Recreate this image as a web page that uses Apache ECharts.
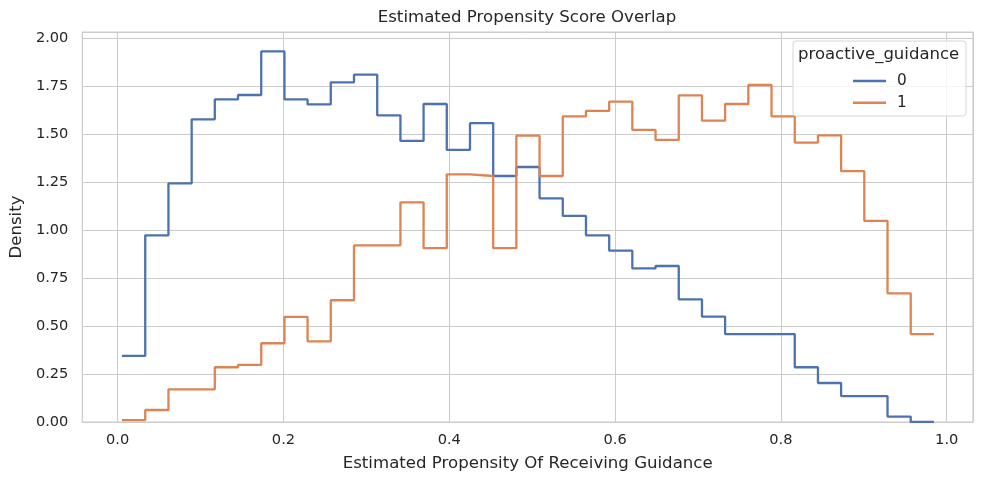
<!DOCTYPE html>
<html>
<head>
<meta charset="utf-8">
<script src="https://cdn.jsdelivr.net/npm/echarts@6/dist/echarts.min.js"></script>
<style>
  html, body { margin: 0; padding: 0; background: #fff; }
  #chart { width: 984px; height: 484px; }
</style>
</head>
<body>
<div id="chart"></div>
<script>
// 直方图的分箱边界（共 35 个箱，36 个边界）
const binEdges = [
  0.0053, 0.0333, 0.0613, 0.0893, 0.1172, 0.1452, 0.1732, 0.2012, 0.2291,
  0.2571, 0.2851, 0.3131, 0.3411, 0.3690, 0.3970, 0.4250, 0.4530, 0.4809,
  0.5089, 0.5369, 0.5649, 0.5929, 0.6208, 0.6488, 0.6768, 0.7048, 0.7327,
  0.7607, 0.7887, 0.8167, 0.8447, 0.8726, 0.9006, 0.9286, 0.9566, 0.9846
]
// proactive_guidance = 0 的密度
const density0 = [
  0.344, 0.972, 1.243, 1.576, 1.680, 1.703, 1.930, 1.680, 1.654, 1.769,
  1.809, 1.597, 1.464, 1.656, 1.417, 1.556, 1.281, 1.328, 1.165, 1.073,
  0.972, 0.892, 0.800, 0.8125, 0.639, 0.549, 0.458, 0.458, 0.458, 0.285,
  0.203, 0.135, 0.135, 0.028, 0
]
// proactive_guidance = 1 的密度
const density1 = [
  0.010, 0.0625, 0.170, 0.170, 0.285, 0.297, 0.410, 0.547, 0.420, 0.634,
  0.920, 0.920, 1.144, 0.905, 1.290, 1.281, 0.905, 1.491, 1.281, 1.592,
  1.620, 1.668, 1.521, 1.469, 1.701, 1.569, 1.656, 1.755, 1.592, 1.455,
  1.493, 1.306, 1.047, 0.670, 0.458
]
const groups = ['0', '1']
const xTicks = [0, 0.2, 0.4, 0.6, 0.8, 1.0]
const yTicks = [0, 0.25, 0.5, 0.75, 1.0, 1.25, 1.5, 1.75, 2.0]

// 把每个箱的高度变成阶梯线的点（最后一个边界重复最后的高度）
const stepPoints = (heights) => {
  const pts = heights.map((h, i) => [binEdges[i], h])
  pts.push([binEdges[heights.length], heights[heights.length - 1]])
  return pts
}

const font = 'DejaVu Sans'
const textColor = '#262626'
const gridColor = '#cccccc'

const near = (v, list) => list.some(t => Math.abs(t - v) < 1e-6)

const chart = echarts.init(document.getElementById('chart'), null, { renderer: 'canvas' })

const option = {
  backgroundColor: '#ffffff',
  animation: false,
  textStyle: { fontFamily: font, color: textColor },
  color: ['#4c72b0', '#dd8452'],
  title: {
    text: 'Estimated Propensity Score Overlap',
    left: 527,
    top: 9,
    padding: 0,
    textAlign: 'center',
    textStyle: { fontFamily: font, fontSize: 16.6, fontWeight: 'normal', color: textColor }
  },
  grid: {
    left: 81, top: 32, right: 11, bottom: 62,
    show: true,
    borderColor: gridColor,
    borderWidth: 1.25,
    containLabel: false
  },
  xAxis: {
    type: 'value',
    min: -0.0425,
    max: 1.0317,
    splitNumber: 5,
    name: 'Estimated Propensity Of Receiving Guidance',
    nameLocation: 'middle',
    nameGap: 33,
    nameTextStyle: { fontFamily: font, fontSize: 16.6, color: textColor },
    axisLine: { show: false },
    axisTick: { show: false },
    axisLabel: {
      margin: 11,
      fontFamily: font,
      fontSize: 14.6,
      color: textColor,
      showMinLabel: false,
      showMaxLabel: false,
      formatter: v => near(v, xTicks) ? v.toFixed(1) : ''
    },
    splitLine: { show: true, lineStyle: { color: gridColor, width: 1 } }
  },
  yAxis: {
    type: 'value',
    min: 0,
    max: 2.031,
    interval: 0.25,
    name: 'Density',
    nameLocation: 'middle',
    nameGap: 46,
    nameTextStyle: { fontFamily: font, fontSize: 16.6, color: textColor },
    axisLine: { show: false },
    axisTick: { show: false },
    axisLabel: {
      margin: 14,
      fontFamily: font,
      fontSize: 14.6,
      color: textColor,
      showMaxLabel: false,
      formatter: v => near(v, yTicks) ? v.toFixed(2) : ''
    },
    splitLine: { show: true, lineStyle: { color: gridColor, width: 1 } }
  },
  legend: {
    data: groups,
    orient: 'vertical',
    left: 853,
    top: 73,
    padding: 0,
    icon: 'rect',
    itemWidth: 33,
    itemHeight: 2.4,
    itemGap: 5.7,
    z: 6,
    textStyle: { fontFamily: font, fontSize: 15.3, lineHeight: 16, color: textColor, padding: [0, 0, 0, 6] }
  },
  graphic: [
    {
      type: 'rect',
      z: 5,
      shape: { x: 793, y: 41, width: 173, height: 75, r: 3 },
      style: { fill: 'rgba(255,255,255,0.8)', stroke: '#d6d6d6', lineWidth: 1 }
    },
    {
      type: 'text',
      z: 6,
      left: 798,
      top: 46,
      style: { text: 'proactive_guidance', font: '16.5px "DejaVu Sans"', fill: textColor }
    }
  ],
  series: [
    {
      name: groups[0],
      type: 'line',
      step: 'end',
      symbol: 'none',
      lineStyle: { width: 2.3 },
      data: stepPoints(density0)
    },
    {
      name: groups[1],
      type: 'line',
      step: 'end',
      symbol: 'none',
      lineStyle: { width: 2.3 },
      data: stepPoints(density1)
    }
  ]
}

chart.setOption(option)
</script>
</body>
</html>
